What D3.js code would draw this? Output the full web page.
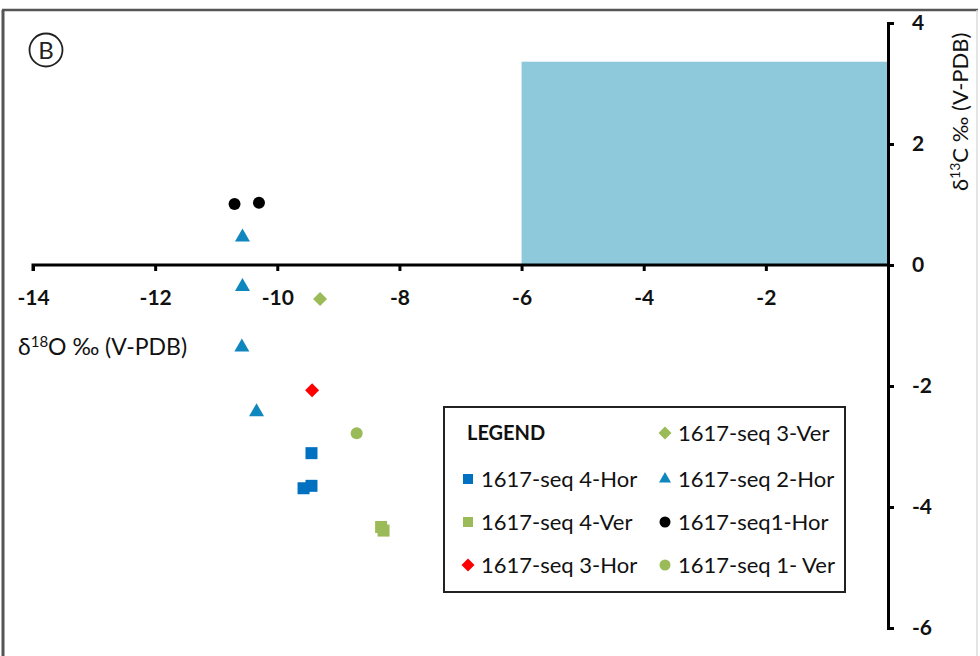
<!DOCTYPE html>
<html><head><meta charset="utf-8">
<script src="https://cdn.jsdelivr.net/npm/d3@7"></script>
<style>
html,body{margin:0;padding:0;background:#fff;}
svg{display:block;font-family:Lato,"Open Sans",sans-serif;}
</style></head>
<body><svg id="c" width="980" height="656"></svg>
<script>
// ---- data ----
const xTicks = [-14, -12, -10, -8, -6, -4, -2];
const yTicks = [4, 2, 0, -2, -4, -6];
const boxX = [-6, 0];
const boxY = [0, 3.36];

const seriesNames = ["1617-seq 4-Hor", "1617-seq 4-Ver", "1617-seq 3-Hor", "1617-seq 3-Ver", "1617-seq 2-Hor", "1617-seq1-Hor", "1617-seq 1- Ver"];
const seriesShapes = ["square", "square", "diamond", "diamond", "triangle", "circle", "circle"];
const seriesColors = ["#0070C0", "#9BBB59", "#FF0000", "#9BBB59", "#0F86BE", "#000000", "#9BBB59"];

const seq4HorX = [-9.44, -9.44, -9.57];
const seq4HorY = [-3.11, -3.65, -3.69];
const seq4VerX = [-8.30, -8.26];
const seq4VerY = [-4.33, -4.39];
const seq3HorX = [-9.43];
const seq3HorY = [-2.07];
const seq3VerX = [-9.30];
const seq3VerY = [-0.56];
const seq2HorX = [-10.57, -10.57, -10.58, -10.34];
const seq2HorY = [0.46, -0.36, -1.36, -2.43];
const seq1HorX = [-10.70, -10.30];
const seq1HorY = [1.01, 1.03];
const seq1VerX = [-8.70];
const seq1VerY = [-2.78];

const seriesX = [seq4HorX, seq4VerX, seq3HorX, seq3VerX, seq2HorX, seq1HorX, seq1VerX];
const seriesY = [seq4HorY, seq4VerY, seq3HorY, seq3VerY, seq2HorY, seq1HorY, seq1VerY];

// legend layout order (col, row)
const legendOrder = [
  {s:0, col:0, row:1}, {s:1, col:0, row:2}, {s:2, col:0, row:3},
  {s:3, col:1, row:0}, {s:4, col:1, row:1}, {s:5, col:1, row:2}, {s:6, col:1, row:3}
];

// ---- chart ----
const svg = d3.select("#c");
const x = d3.scaleLinear().domain([-14, 0]).range([33, 888]);
const y = d3.scaleLinear().domain([-6, 4]).range([628, 23]);

// frame
svg.append("line").attr("x1", 2).attr("x2", 978).attr("y1", 10).attr("y2", 10).attr("stroke", "#555").attr("stroke-width", 2.5);
svg.append("line").attr("x1", 3).attr("x2", 3).attr("y1", 10).attr("y2", 656).attr("stroke", "#555").attr("stroke-width", 3);
svg.append("line").attr("x1", 977).attr("x2", 977).attr("y1", 10).attr("y2", 656).attr("stroke", "#ddd").attr("stroke-width", 1.5);

// circled B
svg.append("circle").attr("cx", 46).attr("cy", 50).attr("r", 16.5).attr("fill", "none").attr("stroke", "#222").attr("stroke-width", 1.8);
svg.append("text").attr("x", 46).attr("y", 58.5).attr("text-anchor", "middle").attr("font-size", 24).attr("fill", "#222").text("B");

// blue box
svg.append("rect")
  .attr("x", x(boxX[0])).attr("y", y(boxY[1]))
  .attr("width", x(boxX[1]) - x(boxX[0])).attr("height", y(boxY[0]) - y(boxY[1]))
  .attr("fill", "#8DC9DA");

// x axis
const xAxis = d3.axisBottom(x).tickValues(xTicks).tickSize(6).tickSizeOuter(6).tickPadding(19).tickFormat(d => d);
const gx = svg.append("g").attr("transform", `translate(0,${y(0)})`).call(xAxis);
gx.select(".domain").attr("stroke", "#000").attr("stroke-width", 3).attr("d", `M${x(-14)},6V0H${x(0)}`);
gx.selectAll(".tick line").attr("stroke", "#000").attr("stroke-width", 3);
gx.selectAll(".tick text").attr("font-family", "Lato, sans-serif").attr("font-weight", "bold").attr("font-size", 21).attr("fill", "#111");

// y axis
const yAxis = d3.axisRight(y).tickValues(yTicks).tickSize(6).tickSizeOuter(6).tickPadding(18).tickFormat(d => d);
const gy = svg.append("g").attr("transform", `translate(${x(0)},0)`).call(yAxis);
gy.select(".domain").attr("stroke", "#000").attr("stroke-width", 3);
gy.selectAll(".tick line").attr("stroke", "#000").attr("stroke-width", 3);
gy.selectAll(".tick text").attr("font-family", "Lato, sans-serif").attr("font-weight", "bold").attr("font-size", 21).attr("fill", "#111");

// axis titles
const xt = svg.append("text").attr("x", 18).attr("y", 355).attr("font-size", 23).attr("fill", "#111");
xt.append("tspan").text("δ");
xt.append("tspan").attr("font-size", 15).attr("dy", -8).text("18");
xt.append("tspan").attr("dy", 8).text("O ‰ (V-PDB)");

const yt = svg.append("text").attr("transform", `translate(968,191) rotate(-90)`).attr("font-size", 22).attr("fill", "#111");
yt.append("tspan").text("δ");
yt.append("tspan").attr("font-size", 14).attr("dy", -8).text("13");
yt.append("tspan").attr("dy", 8).text("C ‰ (V-PDB)");

// symbols
function symPath(shape, s) {
  if (shape === "square") return d3.symbol(d3.symbolSquare, s * s)();
  if (shape === "diamond") return d3.symbol(d3.symbolSquare, s * s * 0.5)();
  if (shape === "triangle") return d3.symbol(d3.symbolTriangle, s * s * Math.sqrt(3) / 4)();
  return d3.symbol(d3.symbolCircle, Math.PI * s * s / 4)();
}
const markerSize = {square: 12, diamond: 14, triangle: 15, circle: 12};
const legendSize = {square: 10, diamond: 13, triangle: 12, circle: 11};

const pts = svg.append("g");
seriesNames.forEach((name, i) => {
  const data = seriesX[i].map((v, j) => ({x: v, y: seriesY[i][j]}));
  pts.selectAll(null).data(data).enter().append("path")
    .attr("d", symPath(seriesShapes[i], markerSize[seriesShapes[i]]))
    .attr("transform", d => `translate(${x(d.x)},${y(d.y)})` + (seriesShapes[i] === "diamond" ? " rotate(45)" : ""))
    .attr("fill", seriesColors[i]);
});

// legend
const lg = svg.append("g");
lg.append("rect").attr("x", 444).attr("y", 407).attr("width", 401).attr("height", 185)
  .attr("fill", "#fff").attr("stroke", "#222").attr("stroke-width", 2);
lg.append("text").attr("x", 467).attr("y", 440).attr("font-size", 20).attr("font-weight", "bold").attr("fill", "#111").text("LEGEND");
const colX = [468, 665];
const rowY = [433, 479, 522, 565];
legendOrder.forEach(o => {
  const sh = seriesShapes[o.s];
  lg.append("path").attr("d", symPath(sh, legendSize[sh]))
    .attr("transform", `translate(${colX[o.col]},${rowY[o.row]})` + (sh === "diamond" ? " rotate(45)" : ""))
    .attr("fill", seriesColors[o.s]);
  lg.append("text").attr("x", colX[o.col] + 13).attr("y", rowY[o.row] + 8).attr("font-size", 22).attr("fill", "#111").text(seriesNames[o.s]);
});
</script>
</body></html>
